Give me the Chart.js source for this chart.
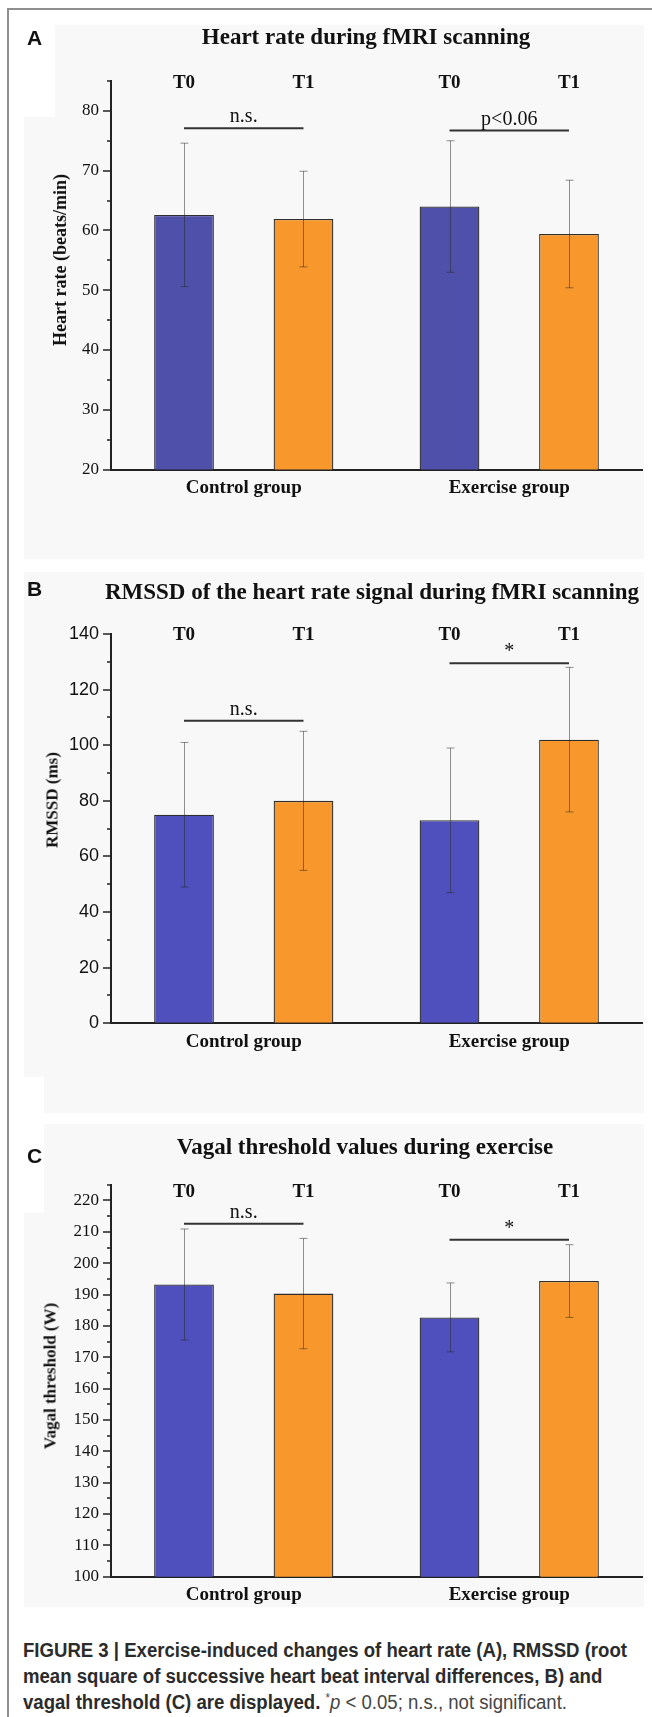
<!DOCTYPE html>
<html><head><meta charset="utf-8">
<script src="https://cdn.jsdelivr.net/npm/chart.js@4.4.1/dist/chart.umd.min.js"></script>
<style>
html,body{margin:0;padding:0;background:#fff;}
body{position:relative;width:652px;height:1717px;overflow:hidden;}
.frame{position:absolute;left:7px;top:8px;right:-10px;bottom:-10px;border-left:2px solid #8f8f8f;border-top:2px solid #8f8f8f;}
.bg{position:absolute;background:#f8f8f8;}
canvas{position:absolute;left:0;}
.letter{position:absolute;font-family:"Liberation Sans",Arial,sans-serif;font-weight:bold;font-size:21px;line-height:21px;color:#111;}
.title{position:absolute;width:600px;text-align:center;font-family:"Liberation Serif","Times New Roman",serif;font-weight:bold;font-size:23px;line-height:23px;color:#111;white-space:nowrap;}
.ytitle{position:absolute;font-family:"Liberation Serif","Times New Roman",serif;font-weight:bold;font-size:17px;line-height:17px;color:#111;white-space:nowrap;transform:translate(-50%,-50%) rotate(-90deg);}
.caption{position:absolute;left:23px;top:1637px;font-family:"Liberation Sans",Arial,sans-serif;font-size:19.5px;line-height:26px;color:#2b2b2b;font-weight:bold;white-space:nowrap;transform-origin:0 0;}
.caption .reg{font-weight:normal;color:#454545;}
</style></head>
<body>
<div class="frame"></div>
<div class="bg" style="left:55px;top:25px;width:589px;height:534px"></div>
<div class="bg" style="left:24px;top:117px;width:31px;height:442px"></div>
<div class="bg" style="left:24px;top:572px;width:620px;height:505px"></div>
<div class="bg" style="left:44px;top:1077px;width:600px;height:36px"></div>
<div class="bg" style="left:44px;top:1124px;width:600px;height:89px"></div>
<div class="bg" style="left:24px;top:1213px;width:620px;height:394px"></div>

<canvas id="chartA" width="652" height="560" style="top:0px"></canvas>
<canvas id="chartB" width="652" height="558" style="top:560px"></canvas>
<canvas id="chartC" width="652" height="500" style="top:1118px"></canvas>

<div class="letter" style="left:27px;top:27px">A</div>
<div class="letter" style="left:27px;top:578px">B</div>
<div class="letter" style="left:27px;top:1145px">C</div>
<div class="title" style="left:66px;top:25px">Heart rate during fMRI scanning</div>
<div class="title" style="left:72px;top:580px">RMSSD of the heart rate signal during fMRI scanning</div>
<div class="title" style="left:65px;top:1135px">Vagal threshold values during exercise</div>
<div class="ytitle" style="left:60px;top:260px;font-size:18px;line-height:18px">Heart rate (beats/min)</div>
<div class="ytitle" style="left:52px;top:800px">RMSSD (ms)</div>
<div class="ytitle" style="left:50px;top:1376px">Vagal threshold (W)</div>

<div class="caption" id="caption"><span id="capLine1">FIGURE 3 | Exercise-induced changes of heart rate (A), RMSSD (root</span><br><span>mean square of successive heart beat interval differences, B) and</span><br><span>vagal threshold (C) are displayed.<span class="reg"> <sup style="font-size:12px;line-height:0">*</sup><i>p</i> &lt; 0.05; n.s., not significant.</span></span></div>

<script>
// ---------- data ----------
const groups = ['Control group', 'Exercise group'];
const timeLabels = ['T0', 'T1'];

// Panel A: heart rate (beats/min)
const hrT0 = [62.6, 64.0];
const hrT1 = [61.9, 59.4];
const hrT0Sd = [12.0, 11.0];
const hrT1Sd = [8.0, 9.0];
const hrTicks = [20, 30, 40, 50, 60, 70, 80];
const hrSigGroups = [0, 1];
const hrSigValues = [77.1, 76.7];
const hrSigLabels = ['n.s.', 'p<0.06'];

// Panel B: RMSSD (ms)
const rmT0 = [75.0, 73.0];
const rmT1 = [80.0, 102.0];
const rmT0Sd = [26.0, 26.0];
const rmT1Sd = [25.0, 26.0];
const rmTicks = [0, 20, 40, 60, 80, 100, 120, 140];
const rmSigGroups = [0, 1];
const rmSigValues = [108.8, 129.5];
const rmSigLabels = ['n.s.', '*'];

// Panel C: vagal threshold (W)
const vtT0 = [193.2, 182.7];
const vtT1 = [190.3, 194.3];
const vtT0Sd = [17.7, 11.0];
const vtT1Sd = [17.6, 11.6];
const vtTicks = [100, 110, 120, 130, 140, 150, 160, 170, 180, 190, 200, 210, 220];
const vtSigGroups = [0, 1];
const vtSigValues = [212.6, 207.5];
const vtSigLabels = ['n.s.', '*'];

// ---------- styling ----------
const SERIF = '"Liberation Serif", "Times New Roman", serif';
const SANS = '"Liberation Sans", Arial, sans-serif';
const ORANGE = '#f8982c';

const decor = {
  id: 'decor',
  afterDatasetsDraw(chart) {
    const o = chart.options.plugins.decor;
    const {ctx, chartArea: ca} = chart;
    const y = chart.scales.y;
    ctx.save();
    // error bars
    chart.data.datasets.forEach((ds, di) => {
      const meta = chart.getDatasetMeta(di);
      meta.data.forEach((bar, i) => {
        const v = ds.data[i], e = o.errors[di][i];
        const yt = y.getPixelForValue(v + e), yb = y.getPixelForValue(v - e);
        const x = Math.round(bar.x) + 0.5;
        ctx.strokeStyle = 'rgba(35,35,35,0.5)';
        ctx.lineWidth = 1;
        ctx.beginPath();
        ctx.moveTo(x, yt); ctx.lineTo(x, yb);
        ctx.moveTo(x - 4, yt); ctx.lineTo(x + 4, yt);
        ctx.moveTo(x - 4, yb); ctx.lineTo(x + 4, yb);
        ctx.stroke();
      });
    });
    // T0 / T1 labels over bars
    ctx.fillStyle = '#111';
    ctx.font = 'bold 19px ' + SERIF;
    ctx.textAlign = 'center';
    ctx.textBaseline = 'middle';
    chart.data.datasets.forEach((ds, di) => {
      chart.getDatasetMeta(di).data.forEach(bar => {
        ctx.fillText(timeLabels[di], bar.x, ca.top + o.tOffset);
      });
    });
    // significance brackets
    const m0 = chart.getDatasetMeta(0), m1 = chart.getDatasetMeta(1);
    o.sigGroups.forEach((g, k) => {
      const x1 = m0.data[g].x, x2 = m1.data[g].x;
      const py = y.getPixelForValue(o.sigValues[k]);
      ctx.strokeStyle = '#333';
      ctx.lineWidth = 2;
      ctx.beginPath(); ctx.moveTo(x1, py); ctx.lineTo(x2, py); ctx.stroke();
      ctx.font = '20px ' + SERIF;
      ctx.textBaseline = 'alphabetic';
      ctx.fillText(o.sigLabels[k], (x1 + x2) / 2, py - 6);
    });
    // y-axis tick marks (major + minor)
    ctx.strokeStyle = '#222';
    ctx.lineWidth = 1.5;
    const n = Math.round((y.max - y.min) / o.minorStep);
    for (let k = 0; k <= n; k++) {
      const v = y.min + k * o.minorStep;
      const major = o.ticks.includes(v);
      const py = Math.round(y.getPixelForValue(v));
      ctx.beginPath();
      ctx.moveTo(ca.left - (major ? 8 : 4), py);
      ctx.lineTo(ca.left, py);
      ctx.stroke();
    }
    ctx.restore();
  }
};

function makeChart(id, c) {
  return new Chart(document.getElementById(id), {
    type: 'bar',
    data: {
      labels: groups,
      datasets: [
        {label: timeLabels[0], data: c.t0, backgroundColor: c.blue, borderColor: '#2e2e2e', borderWidth: 1.3,
         categoryPercentage: 0.9, barPercentage: 0.5},
        {label: timeLabels[1], data: c.t1, backgroundColor: ORANGE, borderColor: '#2e2e2e', borderWidth: 1.3,
         categoryPercentage: 0.9, barPercentage: 0.5}
      ]
    },
    options: {
      responsive: false, animation: false, devicePixelRatio: 1,
      layout: {padding: {top: c.padTop, bottom: c.padBottom, left: 0, right: 10}},
      plugins: {
        legend: {display: false}, tooltip: {enabled: false},
        decor: {errors: [c.t0Sd, c.t1Sd], ticks: c.ticks, minorStep: c.minorStep, tOffset: c.tOffset,
                sigGroups: c.sigGroups, sigValues: c.sigValues, sigLabels: c.sigLabels}
      },
      scales: {
        x: {
          grid: {display: true, drawOnChartArea: false, drawTicks: false, color: 'transparent'},
          border: {display: true, color: '#222', width: 2},
          ticks: {font: {family: SERIF, size: 19, weight: 'bold'}, color: '#111', padding: 7, maxRotation: 0},
          afterFit(s) { s.height = 40; }
        },
        y: {
          min: c.min, max: c.max,
          grid: {display: true, drawOnChartArea: false, drawTicks: false, color: 'transparent'},
          border: {display: true, color: '#222', width: 2},
          ticks: {font: c.tickFont, color: '#111', padding: 12},
          afterBuildTicks(s) { s.ticks = c.ticks.map(v => ({value: v})); },
          afterFit(s) { s.width = 111; }
        }
      }
    },
    plugins: [decor]
  });
}

makeChart('chartA', {t0: hrT0, t1: hrT1, t0Sd: hrT0Sd, t1Sd: hrT1Sd, ticks: hrTicks, min: 20, max: 85,
  minorStep: 5, tOffset: 2, padTop: 81, padBottom: 50.5, blue: '#4f50aa',
  tickFont: {family: SERIF, size: 17}, sigGroups: hrSigGroups, sigValues: hrSigValues, sigLabels: hrSigLabels});
makeChart('chartB', {t0: rmT0, t1: rmT1, t0Sd: rmT0Sd, t1Sd: rmT1Sd, ticks: rmTicks, min: 0, max: 140,
  minorStep: 10, tOffset: 1, padTop: 74, padBottom: 54.7, blue: '#4f50bd',
  tickFont: {family: SANS, size: 18}, sigGroups: rmSigGroups, sigValues: rmSigValues, sigLabels: rmSigLabels});
makeChart('chartC', {t0: vtT0, t1: vtT1, t0Sd: vtT0Sd, t1Sd: vtT1Sd, ticks: vtTicks, min: 100, max: 225,
  minorStep: 5, tOffset: 7, padTop: 66.8, padBottom: 1.3, blue: '#4f50bd',
  tickFont: {family: SERIF, size: 17}, sigGroups: vtSigGroups, sigValues: vtSigValues, sigLabels: vtSigLabels});

// condense the caption horizontally to the reference line width
(function () {
  const cap = document.getElementById('caption');
  const w = document.getElementById('capLine1').getBoundingClientRect().width;
  if (w > 0) cap.style.transform = 'scaleX(' + (604 / w) + ')';
})();
</script>
</body></html>
